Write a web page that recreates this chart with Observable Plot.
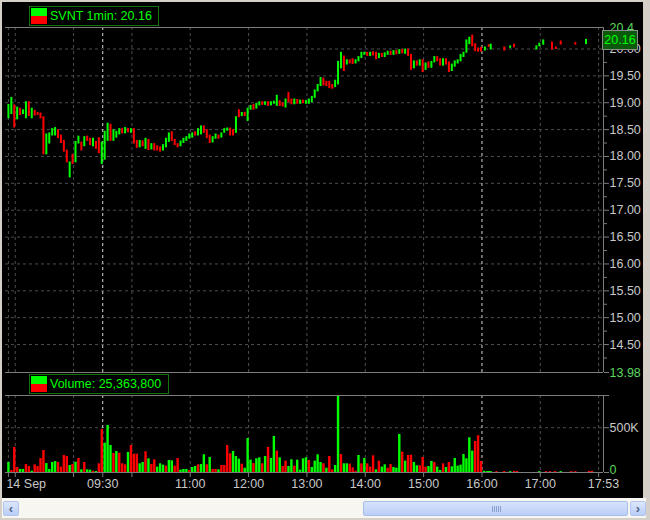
<!DOCTYPE html>
<html><head><meta charset="utf-8">
<script src="https://cdn.jsdelivr.net/npm/d3@7"></script>
<script src="https://cdn.jsdelivr.net/npm/@observablehq/plot@0.6"></script>
<style>
html,body{margin:0;padding:0;}
body{width:650px;height:520px;background:#d4d0c8;position:relative;overflow:hidden;font-family:"Liberation Sans",Arial,sans-serif;}
#win{position:absolute;left:2px;top:2px;width:641px;height:496px;background:#000;}
.abs{position:absolute;}
.legend{position:absolute;box-sizing:border-box;border:1px solid #127212;background:#000;height:20px;}
.legend .sw{position:absolute;left:1px;top:1px;width:16px;height:16px;background:linear-gradient(#00ff00 0 50%,#ff0000 50% 100%);}
.legend .tx{position:absolute;left:20px;top:0;line-height:18px;font-size:12.5px;color:#00ff00;white-space:nowrap;}
#lastbox{position:absolute;box-sizing:border-box;width:36px;height:20px;left:602px;background:#0b5a0b;border:1px solid #8c8c8c;color:#00ff00;font-size:12.5px;line-height:18px;text-align:center;}
#scroll{position:absolute;left:2px;top:498px;width:644px;height:20px;background:#f7f6f1;}
.btn{position:absolute;top:3px;width:16px;height:15px;box-sizing:border-box;border:1px solid #b3c5ee;border-radius:2px;background:linear-gradient(#dce7fe,#b9cdf6);color:#4d6185;font-size:13px;font-weight:bold;line-height:13px;text-align:center;}
#thumb{position:absolute;top:3px;left:361px;width:265px;height:15px;box-sizing:border-box;border:1px solid #a9bde9;border-radius:2px;background:linear-gradient(#d6e2fc,#bccff7);}
#thumb i{position:absolute;top:4px;width:1px;height:6px;background:#8aa0d4;}
</style></head><body>
<div id="win"></div>
<div id="price" class="abs" style="left:0;top:0"></div>
<div id="volume" class="abs" style="left:0;top:380px"></div>
<div class="legend" style="left:29px;top:6px;width:130px"><div class="sw"></div><div class="tx" id="ptext"></div></div>
<div class="legend" style="left:29px;top:374px;width:140px"><div class="sw"></div><div class="tx" id="vtext"></div></div>
<div id="lastbox"></div>
<div id="scroll">
  <div class="btn" style="left:1px">&#8249;</div>
  <div id="thumb"><i style="left:128px"></i><i style="left:130px"></i><i style="left:132px"></i><i style="left:134px"></i><i style="left:136px"></i></div>
  <div class="btn" style="left:628px">&#8250;</div>
</div>
<script>
// ---------- data ----------
const symbol = "SVNT";
const barLabel = "1min";
const lastPrice = 20.16;
const totalVolume = 25363800;
const sessionStart = "07:53";   // time of first bar
const barStep = 3;              // minutes between drawn bars
const open = [18.72,18.80,18.94,18.70,18.88,18.80,18.72,19.00,18.72,18.84,
18.80,18.79,18.72,18.05,18.25,18.40,18.40,18.48,18.38,18.28,
18.10,17.62,18.02,17.90,18.25,18.25,18.20,18.36,18.32,18.20,
18.26,18.33,17.87,17.95,18.30,18.58,18.30,18.36,18.42,18.50,
18.44,18.50,18.45,18.50,18.28,18.18,18.27,18.15,18.30,18.14,
18.22,18.18,18.16,18.12,18.18,18.28,18.44,18.30,18.22,18.20,
18.26,18.30,18.34,18.36,18.44,18.40,18.42,18.55,18.48,18.38,
18.27,18.34,18.38,18.36,18.45,18.49,18.51,18.48,18.45,18.85,
18.76,18.80,18.67,18.88,18.95,18.90,18.96,19.00,18.97,19.00,
18.96,18.99,18.95,19.02,18.98,18.92,19.17,19.05,18.98,19.04,
18.99,19.03,18.99,18.99,19.02,19.10,19.22,19.32,19.44,19.38,
19.38,19.32,19.30,19.35,19.65,19.85,19.72,19.78,19.80,19.74,
19.78,19.84,19.90,19.92,19.88,19.93,19.92,19.84,19.90,19.86,
19.90,19.94,19.90,19.95,19.92,19.97,19.92,19.98,19.88,19.65,
19.76,19.70,19.78,19.62,19.74,19.66,19.76,19.84,19.80,19.70,
19.80,19.74,19.60,19.68,19.74,19.78,19.86,19.94,20.10,20.24,
20.08,20.00,20.01];
const close = [18.95,19.08,18.55,18.90,18.78,18.85,19.00,18.76,18.88,18.77,
18.78,18.72,18.05,18.40,18.42,18.50,18.52,18.35,18.26,18.10,
17.90,17.88,17.87,18.26,18.36,18.12,18.35,18.30,18.22,18.32,
18.15,18.07,18.25,18.45,18.60,18.30,18.48,18.45,18.50,18.44,
18.52,18.46,18.50,18.25,18.17,18.28,18.20,18.32,18.13,18.22,
18.12,18.12,18.10,18.20,18.32,18.42,18.30,18.22,18.18,18.27,
18.32,18.35,18.40,18.42,18.40,18.50,18.55,18.45,18.35,18.26,
18.35,18.40,18.34,18.42,18.50,18.51,18.40,18.40,18.72,18.74,
18.80,18.76,18.88,18.93,18.88,18.97,19.00,18.97,19.00,18.95,
19.00,19.01,19.12,18.95,18.94,19.05,19.02,18.98,19.05,18.99,
19.03,19.00,19.02,19.05,19.10,19.22,19.32,19.45,19.33,19.32,
19.28,19.27,19.40,19.75,19.92,19.60,19.78,19.74,19.73,19.78,
19.84,19.92,19.92,19.88,19.92,19.89,19.82,19.90,19.86,19.91,
19.94,19.90,19.95,19.91,19.97,19.93,19.98,19.88,19.62,19.76,
19.70,19.78,19.58,19.72,19.66,19.75,19.84,19.78,19.70,19.80,
19.72,19.58,19.70,19.76,19.78,19.88,19.92,20.15,20.20,20.06,
19.97,19.96,19.96];
const volumeK = [112,22,280,56,34,34,89,67,15,86,
67,157,246,100,34,112,123,112,60,190,
179,78,89,115,157,30,112,30,26,15,
11,97,481,328,526,302,213,235,216,97,
86,224,302,205,205,97,112,231,153,89,
142,60,97,82,71,134,130,71,157,26,
34,34,22,56,67,86,89,198,86,168,
34,34,30,78,78,302,209,235,179,149,
93,48,380,138,100,153,164,97,179,280,
157,403,239,164,67,127,67,142,71,138,
26,153,164,134,56,127,198,112,97,48,
179,30,78,860,201,97,97,93,52,15,
190,97,157,97,60,186,30,127,60,86,
48,89,56,48,425,227,127,190,194,112,
75,75,168,60,67,123,112,60,22,97,
56,112,63,157,71,82,201,153,388,239,
347,410,123];
const volumeDir = "GRRRGGRRGR"+"RRRGGGGRRR"+"RGRGRGRGGR"+"GRRGGGRGRR"+"RGRRRGGRGR"+
"RGGGRGGRRG"+"GGRGGRGGRG"+"RRGRRRRGGG"+"RGGGRGGRGR"+"GGRGRRGGRG"+
"GGGRGGGGRG"+"RRGGRGGRRR"+"GRGRRRGRGG"+"RRGGGRGRRG"+"GRRRGGRGGR"+"GRGGGGGGGG"+"RRR";
// after-hours trades (sparse)
const ahTime  = ["16:03","16:07","16:09","16:23","16:29","16:33","16:56","16:59","17:03","17:12","17:16","17:21","17:36","17:47"];
const ahOpen  = [19.98,20.06,20.00,20.02,20.03,20.07,20.00,20.06,20.09,20.11,20.02,20.13,20.10,20.10];
const ahClose = [20.02,20.05,20.07,19.98,20.04,20.04,20.04,20.09,20.15,20.00,20.01,20.09,20.09,20.16];
const ahVolTime = ["16:02","16:05","16:07","16:09","16:15","16:23","16:29","16:33","16:36","16:59","17:06","17:10","17:15","17:21","17:32","17:36","17:50","17:53"];
const ahVolK    = [14,10,12,10,10,12,10,12,12,10,10,10,10,10,10,10,12,12];
const ahVolDir  = "GGGGRRGRRGRRRGRRRR";
// axes
const priceMin = 13.98, priceMax = 20.4;
const priceTicks = [14.5,15,15.5,16,16.5,17,17.5,18,18.5,19,19.5,20];
const priceMinorTicks = [14.25,14.75,15.25,15.75,16.25,16.75,17.25,17.75,18.25,18.75,19.25,19.75,20.25];
const volumeMax = 860000;
const volumeTicks = [0, 500000];
const viewStart = "07:50", viewEnd = "18:05";
const gridTimes = ["07:53","08:00","09:00","10:00","11:00","12:00","13:00","14:00","15:00","17:00","18:00"];
const sessionTimes = ["09:30","16:00"];
const axisLabels = ["09:30","11:00","12:00","13:00","14:00","15:00","16:00","17:00"];
const firstLabel = {time: "07:53", text: "14 Sep"};
const lastLabel = {time: "17:53", text: "17:53"};

// ---------- build ----------
const up = "#00ff00", down = "#ff0000", lblGreen = "#5cd65c", gridCol = "#4e4e4e", axisCol = "#7c7c7c", txtCol = "#c8c8c8";
const toMin = s => { const [h, m] = s.split(":").map(Number); return h * 60 + m; };
const t0 = toMin(sessionStart);
const candles = open.map((o, i) => ({t: t0 + i * barStep, o, c: close[i]}))
  .concat(ahTime.map((s, i) => ({t: toMin(s), o: ahOpen[i], c: ahClose[i]})));
const vols = volumeK.map((v, i) => ({t: t0 + i * barStep, v: v * 1000, g: volumeDir[i] === "G"}))
  .concat(ahVolTime.map((s, i) => ({t: toMin(s), v: ahVolK[i] * 1000, g: ahVolDir[i] === "G"})));
const xDom = [toMin(viewStart), toMin(viewEnd)];
const W = 650;
const baseStyle = {background: "transparent", color: txtCol, fontFamily: "'Liberation Sans', Arial, sans-serif", fontSize: "12.5px", overflow: "visible"};
const dash = {stroke: gridCol, strokeDasharray: "3,3"};
const wdash = {stroke: "#d8d8d8", strokeDasharray: "3,3"};

const priceChart = Plot.plot({
  width: W, height: 380, marginLeft: 5, marginRight: 47, marginTop: 27, marginBottom: 8,
  x: {domain: xDom, axis: null},
  y: {domain: [priceMin, priceMax], axis: null},
  color: {type: "identity"},
  style: baseStyle,
  marks: [
    Plot.ruleY(priceTicks, dash),
    Plot.ruleX(gridTimes.map(toMin), dash),
    Plot.ruleX(sessionTimes.map(toMin), wdash),
    Plot.ruleY([priceMin, priceMax], {stroke: axisCol}),
    Plot.ruleX([xDom[1]], {stroke: axisCol}),
    Plot.ruleX(candles, {x: "t", y1: "o", y2: "c", stroke: d => d.c >= d.o ? up : down, strokeWidth: 2, strokeLinecap: "square"}),
    Plot.axisY({anchor: "right", label: null, ticks: priceMinorTicks, tickSize: 3, tickFormat: () => "", stroke: axisCol}),
    Plot.axisY({anchor: "right", label: null, ticks: priceTicks, tickSize: 5, tickPadding: 1, tickFormat: d => d.toFixed(2), stroke: axisCol, fill: txtCol}),
    Plot.axisY({anchor: "right", label: null, ticks: [priceMin], tickSize: 5, tickPadding: 1, tickFormat: d => d.toFixed(2), stroke: axisCol, fill: lblGreen}),
    Plot.axisY({anchor: "right", label: null, ticks: [priceMax], tickSize: 0, tickPadding: 6, tickFormat: d => String(d), fill: lblGreen})
  ]
});
document.getElementById("price").appendChild(priceChart);

const labelFont = {fill: txtCol, frameAnchor: "bottom", dy: 15};
const volChart = Plot.plot({
  width: W, height: 120, marginLeft: 5, marginRight: 47, marginTop: 15, marginBottom: 28,
  x: {domain: xDom, axis: null},
  y: {domain: [0, volumeMax], axis: null},
  color: {type: "identity"},
  style: baseStyle,
  marks: [
    Plot.ruleY([volumeTicks[1]], dash),
    Plot.ruleX(gridTimes.map(toMin), dash),
    Plot.ruleX(sessionTimes.map(toMin), wdash),
    Plot.ruleX(vols, {x: "t", y1: 0, y2: "v", stroke: d => d.g ? up : down, strokeWidth: 2.4}),
    Plot.ruleY([0, volumeMax], {stroke: axisCol}),
    Plot.ruleX([xDom[1]], {stroke: axisCol}),
    Plot.axisY({anchor: "right", label: null, ticks: [0, 500000, volumeMax], tickSize: 5, tickFormat: () => "", stroke: axisCol}),
    Plot.text([volumeTicks[1]], {x: () => xDom[1], y: d => d, text: d => d3.format(".0s")(d).replace("k", "K"), textAnchor: "start", dx: 6, fill: txtCol}),
    Plot.text([volumeTicks[0]], {x: () => xDom[1], y: d => d, text: d => String(d), textAnchor: "start", dx: 6, lineAnchor: "bottom", dy: 1, fill: lblGreen}),
    Plot.axisX({label: null, ticks: gridTimes.concat(sessionTimes).map(toMin), tickSize: 5, tickFormat: () => "", stroke: axisCol}),
    Plot.text(axisLabels, {x: d => toMin(d), text: d => d, ...labelFont}),
    Plot.text([firstLabel], {x: d => toMin(d.time), text: "text", textAnchor: "start", dx: -2, ...labelFont}),
    Plot.text([lastLabel], {x: d => toMin(d.time), text: "text", textAnchor: "start", dx: -4, ...labelFont})
  ]
});
document.getElementById("volume").appendChild(volChart);

document.getElementById("ptext").textContent = `${symbol} ${barLabel}: ${lastPrice.toFixed(2)}`;
document.getElementById("vtext").textContent = `Volume: ${d3.format(",")(totalVolume)}`;
const lb = document.getElementById("lastbox");
lb.textContent = lastPrice.toFixed(2);
lb.style.top = (priceChart.scale("y").apply(lastPrice) - 10) + "px";
</script>
</body></html>
